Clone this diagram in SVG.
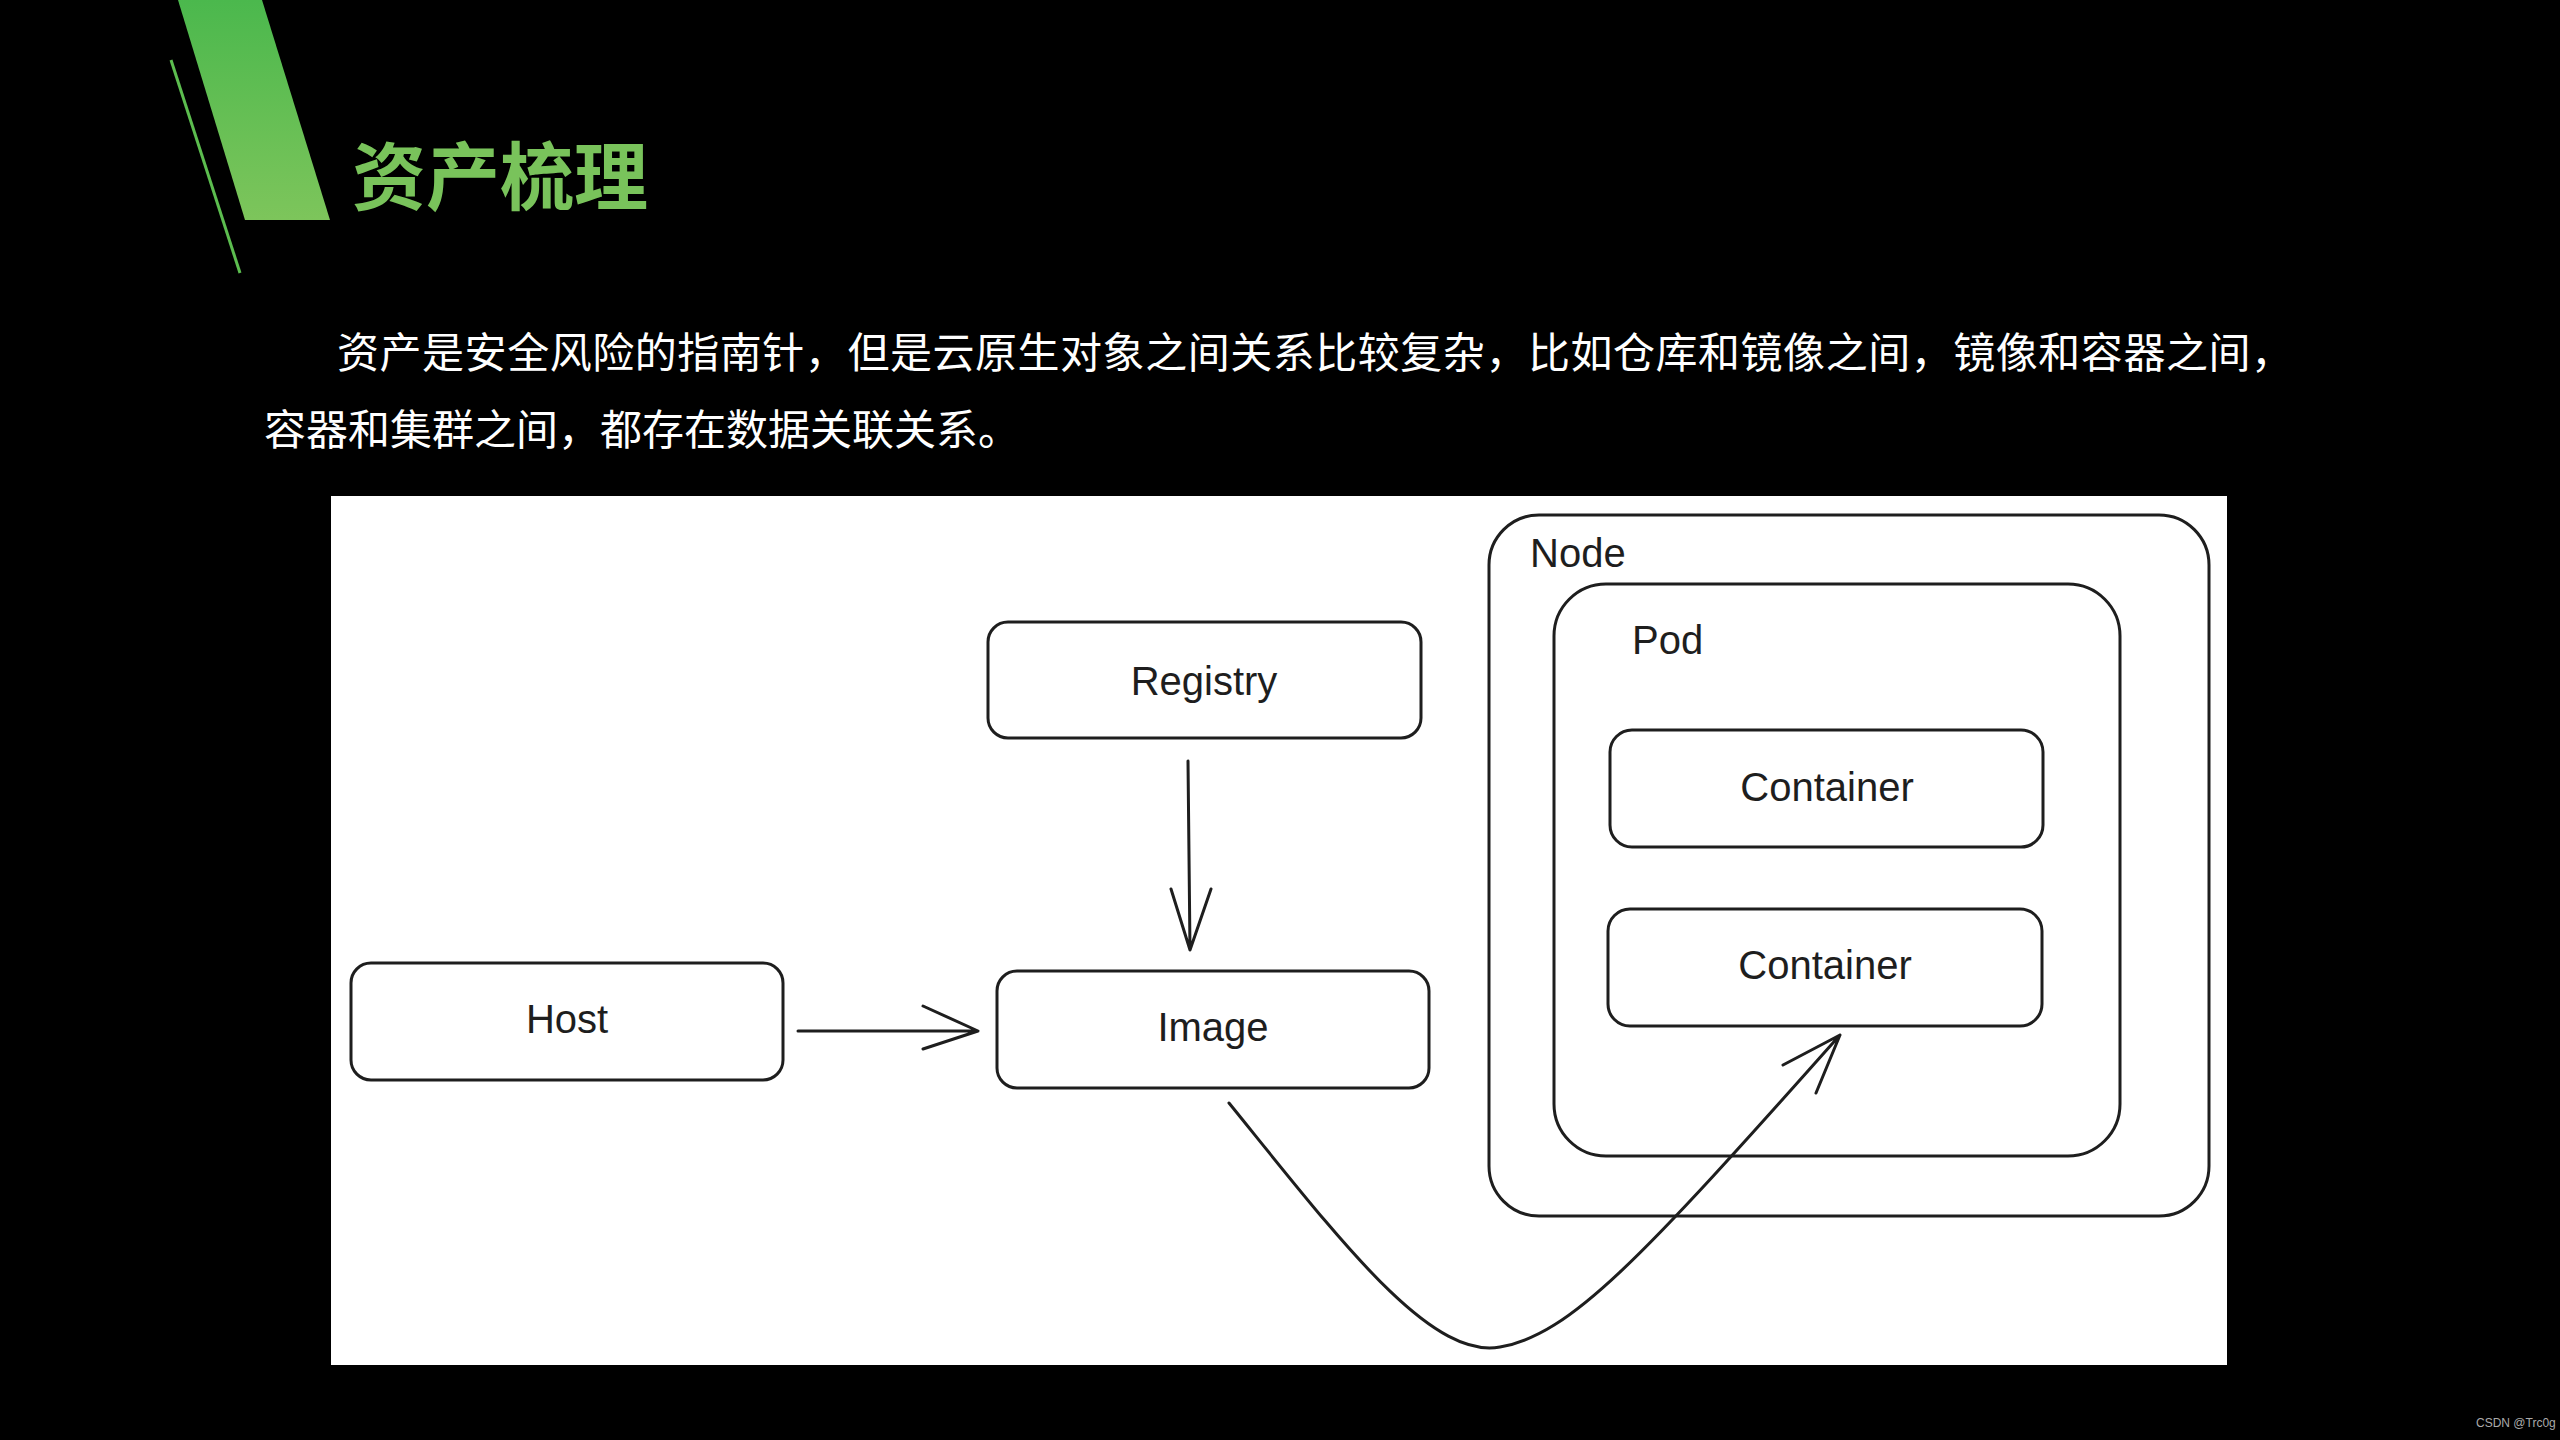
<svg xmlns="http://www.w3.org/2000/svg" width="2560" height="1440" viewBox="0 0 2560 1440">
<defs>
<linearGradient id="g1" x1="0" y1="0" x2="0" y2="1">
<stop offset="0" stop-color="#4bb84d"/>
<stop offset="1" stop-color="#7dc55b"/>
</linearGradient>
<style>
.box{fill:#ffffff;stroke:#1e1e1e;stroke-width:3}
.lbl{font-family:"Liberation Sans","Noto Sans",sans-serif;font-size:40px;fill:#1e1e1e;text-anchor:middle}
.tl{font-family:"Liberation Sans","Noto Sans",sans-serif;font-size:40px;fill:#1e1e1e}
.con{fill:none;stroke:#1e1e1e;stroke-width:3;stroke-linecap:round;stroke-linejoin:round}
.para{font-family:"Noto Sans CJK SC",sans-serif;font-size:42px;fill:#ffffff}
</style>
</defs>
<rect width="2560" height="1440" fill="#000000"/>
<polygon points="178,0 262,0 330,220 245,220" fill="url(#g1)"/>
<line x1="171" y1="60" x2="240" y2="273" stroke="#5cbd4f" stroke-width="3"/>
<text x="352" y="204" font-family="Noto Sans CJK SC,sans-serif" font-size="74" font-weight="bold" fill="#79c35b">资产梳理</text>
<text class="para" x="337" y="368" textLength="1956" lengthAdjust="spacing">资产是安全风险的指南针，但是云原生对象之间关系比较复杂，比如仓库和镜像之间，镜像和容器之间，</text>
<text class="para" x="264" y="445">容器和集群之间，都存在数据关联关系。</text>
<rect x="331" y="496" width="1896" height="869" fill="#ffffff"/>
<g id="node-node">
<rect class="box" x="1489" y="515" width="720" height="701" rx="50"/>
<text class="tl" x="1530" y="567">Node</text>
</g>
<g id="node-pod">
<rect class="box" x="1554" y="584" width="566" height="572" rx="52"/>
<text class="tl" x="1632" y="654">Pod</text>
</g>
<g id="node-container1">
<rect class="box" x="1610" y="730" width="433" height="117" rx="22"/>
<text class="lbl" x="1827" y="801">Container</text>
</g>
<g id="node-container2">
<rect class="box" x="1608" y="909" width="434" height="117" rx="22"/>
<text class="lbl" x="1825" y="979">Container</text>
</g>
<g id="node-registry">
<rect class="box" x="988" y="622" width="433" height="116" rx="20"/>
<text class="lbl" x="1204" y="695">Registry</text>
</g>
<g id="node-host">
<rect class="box" x="351" y="963" width="432" height="117" rx="20"/>
<text class="lbl" x="567" y="1033">Host</text>
</g>
<g id="node-image">
<rect class="box" x="997" y="971" width="432" height="117" rx="20"/>
<text class="lbl" x="1213" y="1041">Image</text>
</g>
<g id="connectors">
<path class="con" d="M1188,761 L1190,950 M1171,889 L1190,950 L1211,889"/>
<path class="con" stroke-width="4" d="M798,1031 L978,1031 M923,1006 L978,1031 L923,1049"/>
<path class="con" d="M1229,1103 C1340,1240 1430,1360 1500,1347 C1570,1335 1640,1260 1840,1035 M1783,1065 L1840,1035 L1816,1093"/>
</g>
<text x="2476" y="1427" font-family="Liberation Sans,sans-serif" font-size="12" fill="#aaaaaa">CSDN @Trc0g</text>
</svg>
